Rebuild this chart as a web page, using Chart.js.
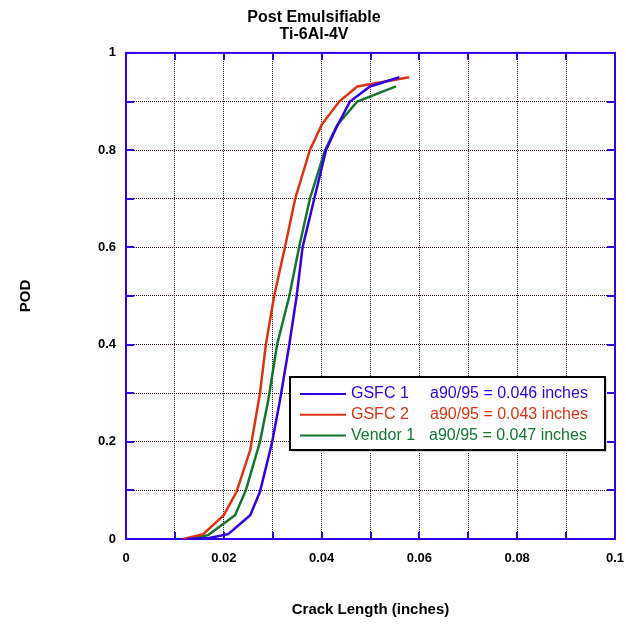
<!DOCTYPE html>
<html>
<head>
<meta charset="utf-8">
<script src="https://cdn.jsdelivr.net/npm/chart.js@4"></script>
<style>
  html, body { margin: 0; padding: 0; background: #fff; }
  #wrap { width: 626px; height: 627px; }
</style>
</head>
<body>
<div id="wrap"><canvas id="chart" width="626" height="627"></canvas></div>
<script>
// crack length (inches) vs probability of detection
var gsfc1X = [0.0125, 0.0170, 0.0209, 0.0254, 0.0274, 0.0299, 0.0315, 0.0334, 0.0349, 0.0361, 0.0385, 0.0409, 0.0432, 0.0458, 0.0499, 0.0559];
var gsfc1Y = [0, 0.002, 0.01, 0.049, 0.097, 0.2, 0.286, 0.4, 0.5, 0.6, 0.7, 0.8, 0.85, 0.9, 0.931, 0.95];

var gsfc2X = [0.0117, 0.0158, 0.0200, 0.0226, 0.0254, 0.0274, 0.0286, 0.0303, 0.0325, 0.0346, 0.0376, 0.0400, 0.0436, 0.0473, 0.0579];
var gsfc2Y = [0, 0.01, 0.049, 0.097, 0.183, 0.3, 0.4, 0.5, 0.6, 0.7, 0.8, 0.852, 0.9, 0.931, 0.95];

var vendor1X = [0.0130, 0.0168, 0.0223, 0.0245, 0.0274, 0.0291, 0.0309, 0.0334, 0.0354, 0.0376, 0.0407, 0.0432, 0.0473, 0.0552];
var vendor1Y = [0, 0.008, 0.049, 0.1, 0.2, 0.286, 0.4, 0.5, 0.6, 0.7, 0.8, 0.852, 0.9, 0.931];

var seriesNames = ["GSFC 1", "GSFC 2", "Vendor 1"];
var a9095 = ["a90/95 = 0.046 inches", "a90/95 = 0.043 inches", "a90/95 = 0.047 inches"];
var colors = ["#3300e6", "#dd3311", "#11772f"];

function pts(xs, ys) {
  var out = [];
  for (var i = 0; i < xs.length; i++) out.push({x: xs[i], y: ys[i]});
  return out;
}

var frameBlue = "#3300ee";

// blue frame with short inside ticks, like the original plot
var framePlugin = {
  id: "frame",
  beforeDatasetsDraw: function(chart) {
    var ctx = chart.ctx, a = chart.chartArea;
    var xs = chart.scales.x, ys = chart.scales.y;
    ctx.save();
    ctx.strokeStyle = frameBlue;
    ctx.lineWidth = 2;
    ctx.strokeRect(a.left, a.top, a.right - a.left, a.bottom - a.top);
    ctx.beginPath();
    xs.ticks.forEach(function(t) {
      var px = Math.round(xs.getPixelForValue(t.value));
      ctx.moveTo(px, a.bottom); ctx.lineTo(px, a.bottom - 7);
      ctx.moveTo(px, a.top); ctx.lineTo(px, a.top + 7);
    });
    ys.ticks.forEach(function(t) {
      var py = Math.round(ys.getPixelForValue(t.value));
      ctx.moveTo(a.left, py); ctx.lineTo(a.left + 8, py);
      ctx.moveTo(a.right, py); ctx.lineTo(a.right - 8, py);
    });
    ctx.stroke();
    ctx.restore();
  }
};

// boxed legend with the a90/95 column
var legendPlugin = {
  id: "podLegend",
  afterDatasetsDraw: function(chart) {
    var ctx = chart.ctx;
    var bx = 290, by = 377, bw = 315, bh = 73;
    ctx.save();
    ctx.fillStyle = "#d8d8d8";
    ctx.fillRect(bx + 2, by + 2, bw, bh);
    ctx.fillStyle = "#ffffff";
    ctx.fillRect(bx, by, bw, bh);
    ctx.strokeStyle = "#000000";
    ctx.lineWidth = 2;
    ctx.strokeRect(bx, by, bw, bh);
    ctx.font = "16px 'Liberation Sans', Arial, sans-serif";
    ctx.textBaseline = "middle";
    for (var i = 0; i < seriesNames.length; i++) {
      var y = by + 17 + i * 20.7;
      ctx.strokeStyle = colors[i];
      ctx.lineWidth = 2;
      ctx.beginPath();
      ctx.moveTo(bx + 10, y); ctx.lineTo(bx + 56, y);
      ctx.stroke();
      ctx.fillStyle = colors[i];
      ctx.fillText(seriesNames[i], bx + 61, y);
      ctx.fillText(a9095[i], i === 2 ? bx + 139 : bx + 140, y);
    }
    ctx.restore();
  }
};

function fmt(v) { return String(+v.toFixed(2)); }

new Chart(document.getElementById("chart"), {
  type: "line",
  data: {
    datasets: [
      { label: seriesNames[0], data: pts(gsfc1X, gsfc1Y), borderColor: colors[0] },
      { label: seriesNames[1], data: pts(gsfc2X, gsfc2Y), borderColor: colors[1] },
      { label: seriesNames[2], data: pts(vendor1X, vendor1Y), borderColor: colors[2] }
    ]
  },
  options: {
    responsive: false,
    animation: false,
    layout: { padding: { left: 13, right: 11, top: 0, bottom: 4 } },
    elements: {
      line: { borderWidth: 2.5, tension: 0, fill: false },
      point: { radius: 0 }
    },
    plugins: {
      legend: { display: false },
      tooltip: { enabled: false },
      title: {
        display: true,
        text: ["Post Emulsifiable", "Ti-6Al-4V"],
        color: "#000",
        font: { family: "'Liberation Sans', Arial, sans-serif", size: 16, weight: "bold", lineHeight: 1.06 },
        padding: { top: 9, bottom: 10 }
      }
    },
    scales: {
      x: {
        type: "linear",
        min: 0, max: 0.1,
        ticks: {
          stepSize: 0.01,
          padding: 12,
          color: "#000",
          autoSkip: false,
          maxRotation: 0,
          font: { family: "'Liberation Sans', Arial, sans-serif", size: 13, weight: "bold" },
          callback: function(v) { return Math.round(v * 100) % 2 === 0 ? fmt(v) : ""; }
        },
        grid: { color: "#2a0f0f", lineWidth: 1, drawTicks: false },
        border: { display: false, dash: [1, 1] },
        title: {
          display: true,
          text: "Crack Length (inches)",
          color: "#000",
          font: { family: "'Liberation Sans', Arial, sans-serif", size: 15, weight: "bold" }
        },
        afterFit: function(s) { s.height = 84; s.paddingLeft = 0; s.paddingRight = 0; }
      },
      y: {
        type: "linear",
        min: 0, max: 1,
        ticks: {
          stepSize: 0.1,
          padding: 10,
          color: "#000",
          autoSkip: false,
          font: { family: "'Liberation Sans', Arial, sans-serif", size: 13, weight: "bold" },
          callback: function(v) { return Math.round(v * 10) % 2 === 0 ? fmt(v) : ""; }
        },
        grid: { color: "#2a0f0f", lineWidth: 1, drawTicks: false },
        border: { display: false, dash: [1, 1] },
        title: {
          display: true,
          text: "POD",
          color: "#000",
          font: { family: "'Liberation Sans', Arial, sans-serif", size: 15, weight: "bold" }
        },
        afterFit: function(s) { s.width = 113; }
      }
    }
  },
  plugins: [framePlugin, legendPlugin]
});
</script>
</body>
</html>
